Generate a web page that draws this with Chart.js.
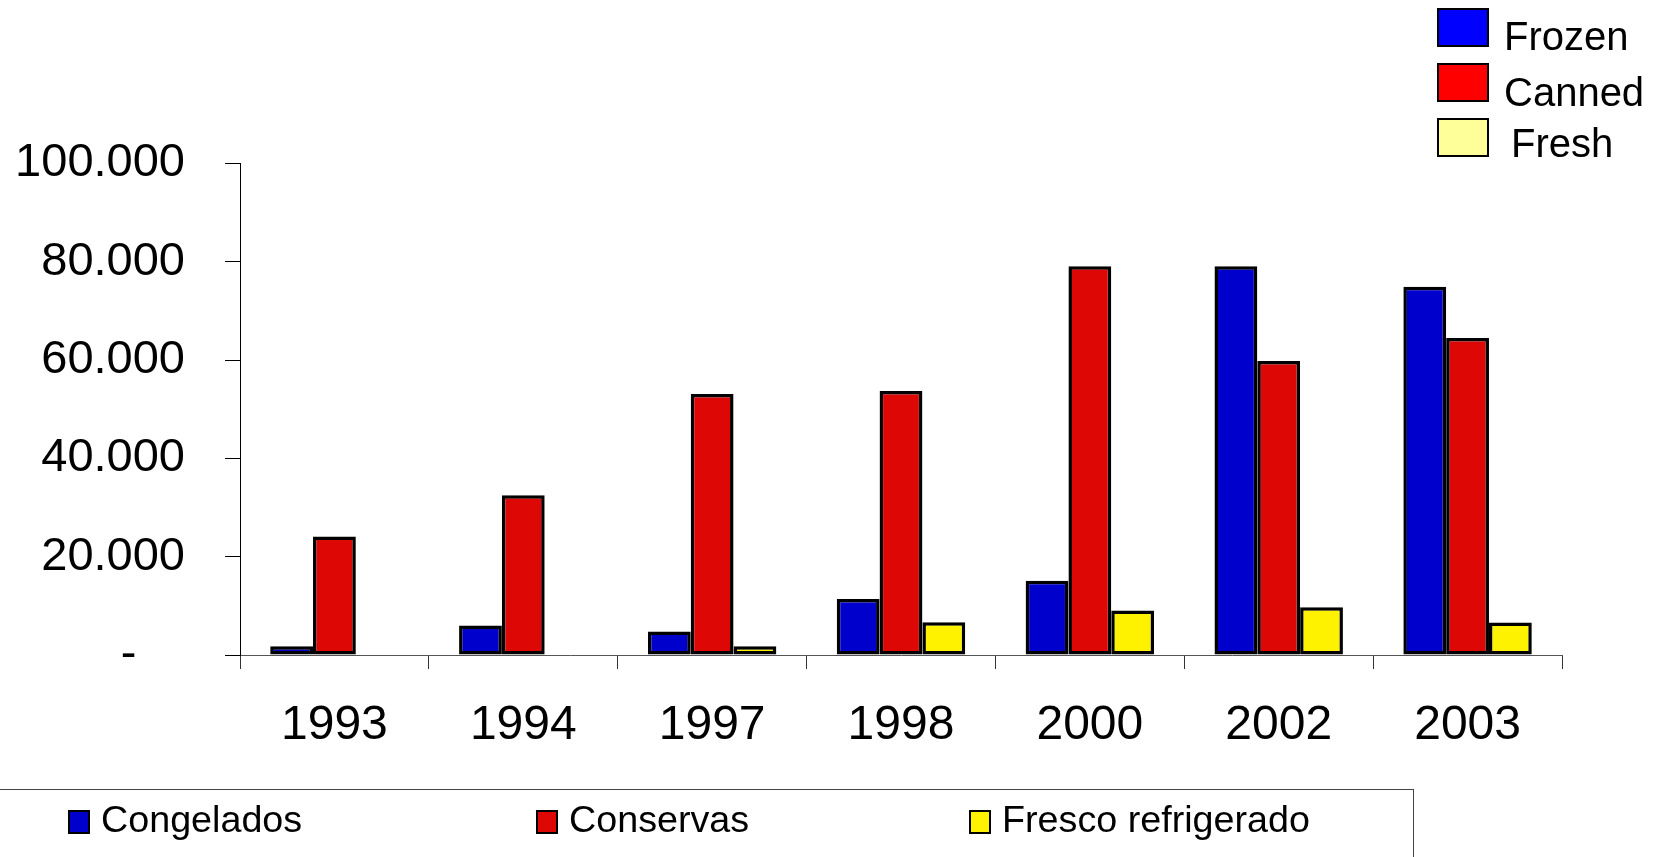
<!DOCTYPE html>
<html>
<head>
<meta charset="utf-8">
<script src="https://cdn.jsdelivr.net/npm/chart.js@4/dist/chart.umd.min.js"></script>
<style>
  html, body { margin: 0; padding: 0; background: #fff; }
  #wrap { position: relative; width: 1655px; height: 857px; overflow: hidden; background: #fff;
          font-family: "Liberation Sans", Arial, Helvetica, sans-serif; color: #000; }
  #chart { position: absolute; left: 0; top: 0; }
  .key { position: absolute; left: 1437px; top: 0; }
  .key .box { position: absolute; left: 0; width: 48px; height: 35px; border: 2px solid #000; }
  .key .txt { position: absolute; font-size: 40px; line-height: 40px; white-space: nowrap; }
  #legendBox { position: absolute; left: -2px; top: 789px; width: 1415px; height: 100px;
               border-top: 1px solid #444; border-right: 1px solid #444; }
  .item { position: absolute; top: 813px; height: 40px; }
  .item .sq { position: absolute; left: 0; top: -3px; width: 18px; height: 20px; border: 2px solid #000; }
  .item .lbl { position: absolute; left: 33px; top: -14px; font-size: 37.7px; line-height: 40px; white-space: nowrap; }
</style>
</head>
<body>
<div id="wrap">
  <canvas id="chart" width="1655" height="857"></canvas>
  <div id="legendBox"></div>
</div>
<script>
// Export volumes by product type
const years = ['1993', '1994', '1997', '1998', '2000', '2002', '2003'];
const congelados = [1800, 6000, 4800, 11400, 15100, 79100, 74900];
const conservas = [24100, 32500, 53100, 53700, 79100, 59800, 64500];
const frescoRefrigerado = [0, 0, 1800, 6650, 9050, 9700, 6600];

const seriesNames = ['Congelados', 'Conservas', 'Fresco refrigerado'];
const seriesColors = ['#0000CC', '#DD0806', '#FFF200'];

// English key in the top-right corner
const keyNames = ['Frozen', 'Canned', 'Fresh'];
const keyColors = ['#0000FF', '#FF0000', '#FFFF99'];

const yMax = 100000;
const yStep = 20000;

// thousands with a dot; zero shown as a dash set off from the right edge
function fmtThousands(v) {
  if (v === 0) return '-   \u2009';
  return String(v).replace(/\B(?=(\d{3})+(?!\d))/g, '.');
}

const wrap = document.getElementById('wrap');

// top-right key
const keyTops = [8, 63, 118];
const keyTextTops = [16, 72, 123];
const keyTextLefts = [67, 67, 74];
keyNames.forEach((name, i) => {
  const k = document.createElement('div');
  k.className = 'key';
  const b = document.createElement('div');
  b.className = 'box';
  b.style.top = keyTops[i] + 'px';
  b.style.background = keyColors[i];
  const t = document.createElement('div');
  t.className = 'txt';
  t.style.top = keyTextTops[i] + 'px';
  t.style.left = keyTextLefts[i] + 'px';
  t.textContent = name;
  k.appendChild(b);
  k.appendChild(t);
  wrap.appendChild(k);
});

// bottom series legend
const itemLefts = [68, 536, 969];
seriesNames.forEach((name, i) => {
  const it = document.createElement('div');
  it.className = 'item';
  it.style.left = itemLefts[i] + 'px';
  const sq = document.createElement('div');
  sq.className = 'sq';
  sq.style.background = seriesColors[i];
  const l = document.createElement('div');
  l.className = 'lbl';
  l.textContent = name;
  it.appendChild(sq);
  it.appendChild(l);
  wrap.appendChild(it);
});

const seriesData = [congelados, conservas, frescoRefrigerado];

new Chart(document.getElementById('chart'), {
  type: 'bar',
  data: {
    labels: years,
    datasets: seriesNames.map((name, i) => ({
      label: name,
      data: seriesData[i],
      backgroundColor: seriesColors[i],
      borderColor: '#000',
      borderWidth: 3.5,
      borderSkipped: false,
      inflateAmount: 0,
      barPercentage: 1.0,
      categoryPercentage: 0.68
    }))
  },
  options: {
    responsive: false,
    animation: false,
    devicePixelRatio: 1,
    layout: { padding: { left: 0, right: 93, top: 163.5, bottom: 0 } },
    plugins: { legend: { display: false }, tooltip: { enabled: false }, title: { display: false } },
    scales: {
      x: {
        offset: true,
        grid: { display: true, offset: true, drawOnChartArea: false, drawTicks: true, tickLength: 14, color: '#333', lineWidth: 1 },
        border: { display: true, color: '#555', width: 1 },
        ticks: { color: '#000', padding: 28, font: { family: '"Liberation Sans", Arial, sans-serif', size: 48 }, maxRotation: 0 },
        afterFit: (s) => { s.height = 857 - 655; }
      },
      y: {
        min: 0,
        max: yMax,
        grid: { display: true, drawOnChartArea: false, drawTicks: true, tickLength: 15, color: '#000', lineWidth: 1 },
        border: { display: true, color: '#000', width: 1 },
        ticks: { stepSize: yStep, color: '#000', padding: 40, callback: (v) => fmtThousands(v),
                 font: { family: '"Liberation Sans", Arial, sans-serif', size: 47 } },
        afterFit: (s) => { s.width = 240; }
      }
    }
  }
});
</script>
</body>
</html>
